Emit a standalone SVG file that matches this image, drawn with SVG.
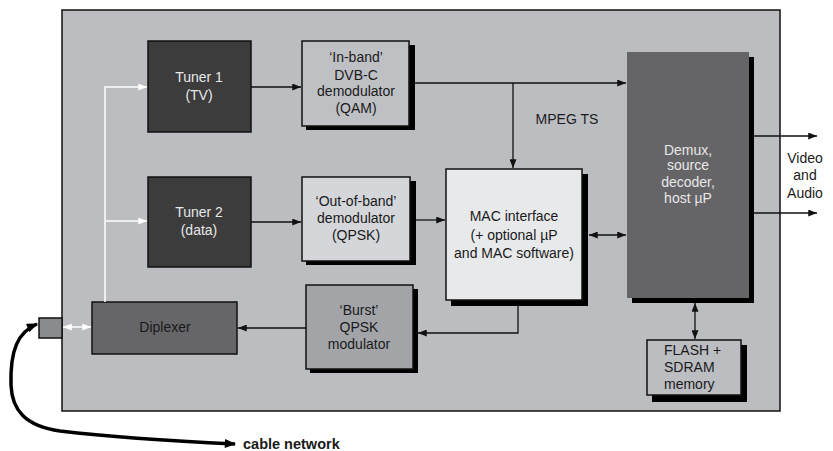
<svg xmlns="http://www.w3.org/2000/svg" width="833" height="451" viewBox="0 0 833 451">
<defs>
<style>
text{font-family:"Liberation Sans",Arial,sans-serif;font-size:14px;fill:#1a1a1a;text-anchor:middle}
.lt{fill:#e8e8e8}
.box{stroke:#111;stroke-width:1.5}
.sh{fill:#000}
.ln{stroke:#111;stroke-width:1.3;fill:none}
.wl{stroke:#fff;stroke-width:1.5;fill:none}
</style>
<marker id="a" viewBox="0 0 10 8" refX="10" refY="4" markerWidth="9" markerHeight="7" markerUnits="userSpaceOnUse" orient="auto-start-reverse"><path d="M0,0 L10,4 L0,8 Z" fill="#111"/></marker>
<marker id="w" viewBox="0 0 10 8" refX="10" refY="4" markerWidth="9" markerHeight="7" markerUnits="userSpaceOnUse" orient="auto-start-reverse"><path d="M0,0 L10,4 L0,8 Z" fill="#fff"/></marker>
<marker id="b" viewBox="0 0 10 8" refX="9" refY="4" markerWidth="12" markerHeight="9" markerUnits="userSpaceOnUse" orient="auto-start-reverse"><path d="M0,0 L10,4 L0,8 Z" fill="#000"/></marker>
</defs>
<rect x="62" y="10" width="718" height="401" fill="#bcbdc1" stroke="#111" stroke-width="1.5"/>

<g id="tuner1"><rect class="box" x="148" y="41" width="103" height="91" fill="#3c3c3d"/><text class="lt" x="199" y="82">Tuner 1</text><text class="lt" x="199" y="100">(TV)</text></g>
<g id="tuner2"><rect class="box" x="148" y="177" width="103" height="90" fill="#3c3c3d"/><text class="lt" x="199" y="217">Tuner 2</text><text class="lt" x="199" y="235">(data)</text></g>
<g id="inband"><rect class="sh" x="306" y="45" width="109" height="85"/><rect class="box" x="302" y="41" width="107" height="85" fill="#bfc0c4"/><text x="356" y="62">‘In-band’</text><text x="356" y="80">DVB-C</text><text x="356" y="96">demodulator</text><text x="356" y="113">(QAM)</text></g>
<g id="outband"><rect class="sh" x="306" y="181" width="110" height="84"/><rect class="box" x="302" y="177" width="108" height="84" fill="#d5d6d9"/><text x="356" y="206">‘Out-of-band’</text><text x="356" y="223">demodulator</text><text x="356" y="240">(QPSK)</text></g>
<g id="burst"><rect class="sh" x="310" y="289" width="108" height="84"/><rect class="box" x="306" y="285" width="107" height="84" fill="#a3a4a8"/><text x="359" y="315">‘Burst’</text><text x="359" y="332">QPSK</text><text x="359" y="349">modulator</text></g>
<g id="diplexer"><rect class="box" x="92" y="302" width="145" height="52" fill="#666668"/><text x="165" y="332">Diplexer</text></g>
<g id="connector"><rect class="box" x="39" y="318" width="23" height="20" fill="#8a8b8f"/></g>
<g id="mac"><rect class="sh" x="451" y="174" width="137" height="132"/><rect class="box" x="446" y="169" width="136" height="131" fill="#e8e9eb"/><text x="514" y="221">MAC interface</text><text x="514" y="240">(+ optional µP</text><text x="514" y="258">and MAC software)</text></g>
<g id="demux"><rect class="sh" x="632" y="57" width="122" height="246"/><rect x="627" y="52" width="122" height="246" fill="#656567"/><text class="lt" x="688" y="155">Demux,</text><text class="lt" x="688" y="170">source</text><text class="lt" x="688" y="187">decoder,</text><text class="lt" x="688" y="203">host µP</text></g>
<g id="flash"><rect class="sh" x="652" y="345" width="95" height="57"/><rect class="box" x="647" y="340" width="94" height="55" fill="#bcbdc1"/><text x="664" y="355" style="text-anchor:start">FLASH +</text><text x="664" y="372" style="text-anchor:start">SDRAM</text><text x="664" y="389" style="text-anchor:start">memory</text></g>

<g id="labels"><text x="567" y="124">MPEG TS</text><text x="805" y="163">Video</text><text x="805" y="180">and</text><text x="805" y="198">Audio</text><text x="243" y="449" style="text-anchor:start;font-weight:bold;font-size:14.5px">cable network</text></g>

<g id="connectors">
<path class="wl" d="M105,302 V87 H147" marker-end="url(#w)"/>
<path class="wl" d="M105,221 H147" marker-end="url(#w)"/>
<path class="wl" d="M63,327 H91" marker-start="url(#w)" marker-end="url(#w)"/>
<path class="ln" d="M251,87 H301" marker-end="url(#a)"/>
<path class="ln" d="M251,222 H301" marker-end="url(#a)"/>
<path class="ln" d="M415,83 H626" marker-end="url(#a)"/>
<path class="ln" d="M513,83 V168" marker-end="url(#a)"/>
<path class="ln" d="M416,220 H445" marker-end="url(#a)"/>
<path class="ln" d="M589,235 H626" marker-start="url(#a)" marker-end="url(#a)"/>
<path class="ln" d="M518,306 V333 H418" marker-end="url(#a)"/>
<path class="ln" d="M306,328 H238" marker-end="url(#a)"/>
<path class="ln" d="M695,303 V339" marker-start="url(#a)" marker-end="url(#a)"/>
<path class="ln" d="M754,136 H817" marker-end="url(#a)"/>
<path class="ln" d="M754,213 H817" marker-end="url(#a)"/>
<path d="M37,324 C18,332 10,350 11,385 C12,410 25,426 60,431 C110,437 170,441 235,444" fill="none" stroke="#000" stroke-width="3.5" marker-start="url(#b)" marker-end="url(#b)"/>
</g>
</svg>
